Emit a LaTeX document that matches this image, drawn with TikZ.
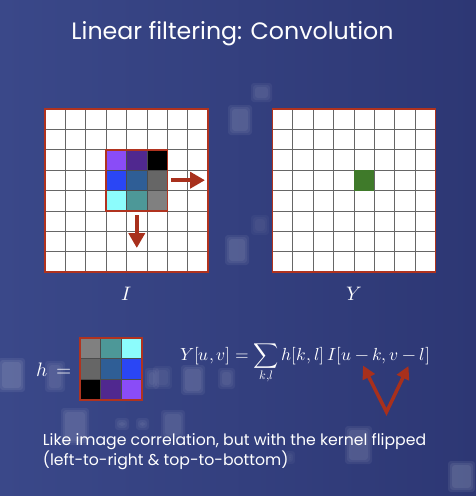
\documentclass[tikz,border=0pt]{standalone}
\usepackage{fontspec}
\usepackage{unicode-math}
\setmainfont{Poppins}
\usetikzlibrary{arrows.meta}

\definecolor{bgleft}{HTML}{3A4889}
\definecolor{bgright}{HTML}{2D3774}
\definecolor{framered}{HTML}{B0331F}
\definecolor{arrowred}{HTML}{A8301C}
\definecolor{kpurple}{HTML}{8A4CF7}
\definecolor{kviolet}{HTML}{50288F}
\definecolor{kblue}{HTML}{2A46F5}
\definecolor{ksteel}{HTML}{2F5E96}
\definecolor{kgray}{HTML}{666666}
\definecolor{kcyan}{HTML}{8CFCFC}
\definecolor{kteal}{HTML}{4D9898}
\definecolor{klight}{HTML}{808080}
\definecolor{outgreen}{HTML}{3F7A2A}

\tikzset{
  gridline/.style={black!60, line width=0.7pt},
  redframe/.style={draw=framered, line width=1.6pt},
  bigarrow/.style={draw=arrowred, line width=4.5pt, -{Triangle[width=16pt,length=15pt]}},
  flipmark/.style={draw=arrowred, line width=3.5pt, line join=miter,
    {Triangle[width=13pt,length=13pt]}-{Triangle[width=13pt,length=13pt]}},
  bokeh/.style={fill=white, rounded corners=3pt},
  math/.style={text=white, font=\fontsize{19.5}{23}\selectfont},
}

\begin{document}
\begin{tikzpicture}[x=1pt,y=-1pt]
  \useasboundingbox (0,0) rectangle (476,496);
  \shade[left color=bgleft, right color=bgright] (0,0) rectangle (476,496);
  % soft squares of the backdrop
  \foreach \xa/\ya/\xb/\yb/\op in {0/360/23/390/.07, 47/363/63/390/.05, 147/370/157/387/.05,
      155/368/170/387/.04, 183/367/203/393/.06, 220/370/233/387/.05, 63/410/87/443/.06,
      117/420/127/428/.05, 138/420/147/428/.05, 163/412/183/437/.05, 347/428/370/462/.06,
      450/463/473/490/.07, 230/107/250/133/.06, 227/237/247/263/.06, 253/217/267/233/.03,
      253/85/270/100/.05, 287/453/293/462/.04}
    \foreach \d in {-2,0,2}
      \fill[bokeh, opacity=\op] (\xa-\d,\ya-\d) rectangle (\xb+\d,\yb+\d);

  \node[text=white, font=\fontsize{23.7}{26}\selectfont, anchor=base] (title) at (232.5,39.3)
    {Linear filtering: Convolution};

  % input and output grids
  \foreach \gx in {45,272.3} {
    \fill[white] (\gx,109) rectangle ++(163.2,163.2);
    \foreach \i in {1,...,7} {
      \draw[gridline] (\gx+\i*20.4,109) -- (\gx+\i*20.4,272.2);
      \draw[gridline] (\gx,109+\i*20.4) -- (\gx+163.2,109+\i*20.4);
    }
    \draw[redframe] (\gx,109) rectangle ++(163.2,163.2);
  }
  \fill[outgreen] (353.9,170.2) rectangle ++(20.4,20.4);

  % kernel on I, and h flipped both ways
  \foreach \row/\col/\c in {0/0/kpurple, 0/1/kviolet, 0/2/black,
      1/0/kblue, 1/1/ksteel, 1/2/kgray, 2/0/kcyan, 2/1/kteal, 2/2/klight} {
    \fill[\c] (106.2+\col*20.4,149.8+\row*20.4) rectangle ++(20.4,20.4);
    \fill[\c] (80+2*20.6-\col*20.6,338+2*20.6-\row*20.6) rectangle ++(20.6,20.6);
  }
  \foreach \i in {1,2} {
    \draw[black!70, line width=0.6pt] (106.2+\i*20.4,149.8) -- ++(0,61.2);
    \draw[black!70, line width=0.6pt] (106.2,149.8+\i*20.4) -- ++(61.2,0);
    \draw[black!70, line width=0.6pt] (80+\i*20.6,338) -- ++(0,61.8);
    \draw[black!70, line width=0.6pt] (80,338+\i*20.6) -- ++(61.8,0);
  }
  \draw[redframe] (106.2,149.8) rectangle ++(61.2,61.2);
  \draw[redframe] (80,338) rectangle ++(61.8,61.8);

  % sliding directions
  \coordinate (slideR0) at (171,180.2);
  \coordinate (slideR1) at (205,180.2);
  \coordinate (slideD0) at (136.8,215);
  \coordinate (slideD1) at (136.8,248);
  \draw[bigarrow] (slideR0) -- (slideR1);
  \draw[bigarrow] (slideD0) -- (slideD1);

  \node[math, anchor=base] (labI) at (127,300) {$I$};
  \node[math, anchor=base] (labY) at (354,300) {$Y$};

  \node[math, anchor=base east] (hlab) at (75,376) {$h\,=$};
  \node[math, font=\fontsize{17.5}{21}\selectfont, anchor=base west, inner sep=0pt] (conv)
    at (180,360) {$\displaystyle Y[u,v] = \sum_{k,l} h[k,l]\, I[u-k, v-l]$};

  % the flipped indices
  \coordinate (tipK) at (363,365.5);
  \coordinate (vtx) at (386.5,412);
  \coordinate (tipL) at (408.5,366);
  \draw[flipmark] (tipK) -- (vtx) -- (tipL);

  \node[text=white, font=\fontsize{15.7}{19}\selectfont, anchor=base west, inner sep=0pt] (note1)
    at (42.7,445.7) {Like image correlation, but with the kernel flipped};
  \node[text=white, font=\fontsize{15.7}{19}\selectfont, anchor=base west, inner sep=0pt] (note2)
    at (42.7,465) {(left-to-right \& top-to-bottom)};
\end{tikzpicture}
\end{document}
